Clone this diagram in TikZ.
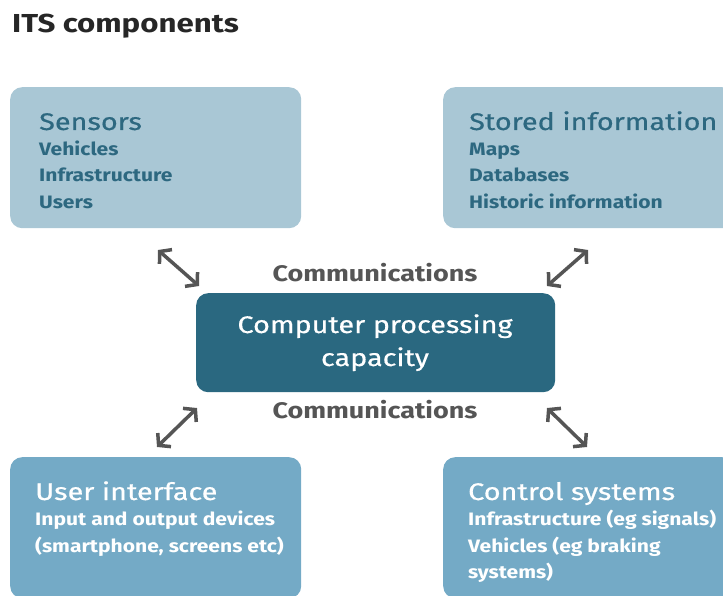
\documentclass[tikz,border=0pt]{standalone}
\usepackage{fontspec}
\setmainfont{Fira Sans}[FakeStretch=1.2]
\newfontfamily\headfont{Fira Sans}[FakeStretch=1.2, FakeBold=0.6]
\newfontfamily\itemfont{Fira Sans}[FakeStretch=1.17]
\usetikzlibrary{positioning, arrows.meta}
\definecolor{paleblue}{HTML}{A9C7D5}
\definecolor{midblue}{HTML}{74AAC6}
\definecolor{deepteal}{HTML}{2A6880}
\definecolor{inkteal}{HTML}{2D6880}
\definecolor{arrowgray}{HTML}{555555}
\tikzset{
    x=1pt, y=-1pt, % one unit is one pixel of the original
    box/.style={rounded corners=12pt, anchor=north west, inner sep=0pt, minimum width=291pt, minimum height=141pt}, % the four outer boxes
    head/.style={anchor=base west, inner sep=0pt, font=\headfont\fontsize{24}{28}\selectfont}, % box headings
    item/.style={anchor=base west, inner sep=0pt, font=\itemfont\fontsize{18}{22}\selectfont\bfseries}, % lines under a heading
    comm/.style={inner sep=0pt, anchor=base, text=arrowgray, font=\fontsize{22.5}{26}\selectfont\bfseries},
    biarrow/.style={{Straight Barb[length=8pt,width=19pt]}-{Straight Barb[length=8pt,width=19pt]}, line width=3.5pt, draw=arrowgray}, % double headed arrows
}
\begin{document}
\begin{tikzpicture}
    \useasboundingbox (0,0) rectangle (723,596);
    \clip (0,0) rectangle (723,596);
    \node[anchor=base west, inner sep=0pt, font=\fontsize{26}{30}\selectfont\bfseries, text=black!85] (title) at (12,33) {ITS components};

    % boxes
    \node[box, fill=paleblue] (sensors) at (10,87) {};
    \node[box, fill=paleblue] (stored) at (443,87) {};
    \node[box, fill=midblue] (ui) at (10,457) {};
    \node[box, fill=midblue] (control) at (443,457) {};
    \node[rounded corners=12pt, fill=deepteal, minimum width=359pt, minimum height=99pt, anchor=north west] (cpu) at (196,293) {};

    % texts of the boxes
    \node[head, text=inkteal] (sensorshead) at (39,130) {Sensors};
    \foreach \txt [count=\i] in {Vehicles, Infrastructure, Users}
        \node[item, text=inkteal] (sensors\i) at (39,129+26.5*\i) {\txt};
    \node[head, text=inkteal] (storedhead) at (469,130) {Stored information};
    \foreach \txt [count=\i] in {Maps, Databases, Historic information}
        \node[item, text=inkteal] (stored\i) at (469,129+26.5*\i) {\txt};
    \node[head, text=white] (uihead) at (35,500) {User interface};
    \foreach \txt [count=\i] in {Input and output devices, {(smartphone, screens etc)}}
        \node[item, text=white] (ui\i) at (35,499+26.5*\i) {\txt};
    \node[head, text=white] (controlhead) at (468,500) {Control systems};
    \foreach \txt [count=\i] in {Infrastructure (eg signals), Vehicles (eg braking, systems)}
        \node[item, text=white] (control\i) at (468,499+26.5*\i) {\txt};
    \node[anchor=base, inner sep=0pt, text=white, font=\headfont\fontsize{24}{28}\selectfont] (cpu1) at (375,333) {Computer processing};
    \node[anchor=base, inner sep=0pt, text=white, font=\headfont\fontsize{24}{28}\selectfont] (cpu2) at (375,366) {capacity};

    \node[comm] (commtop) at (375,281) {Communications};
    \node[comm] (commbot) at (375,418) {Communications};

    % arrows
    \coordinate (tla) at (158,250);
    \coordinate (tlb) at (199,286);
    \coordinate (tra) at (588,250);
    \coordinate (trb) at (547,286);
    \coordinate (bla) at (157,447);
    \coordinate (blb) at (197,408);
    \coordinate (bra) at (587,447);
    \coordinate (brb) at (547,408);
    \draw[biarrow] (tla) -- (tlb);
    \draw[biarrow] (tra) -- (trb);
    \draw[biarrow] (bla) -- (blb);
    \draw[biarrow] (bra) -- (brb);
\end{tikzpicture}
\end{document}
